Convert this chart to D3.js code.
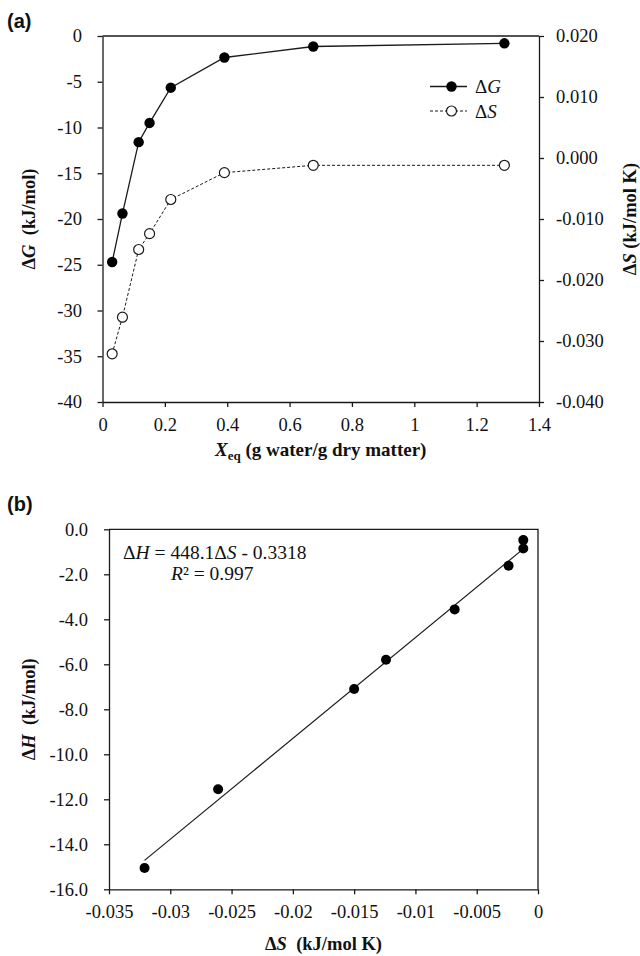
<!DOCTYPE html>
<html>
<head>
<meta charset="utf-8">
<script src="https://cdn.jsdelivr.net/npm/d3@7"></script>
<style>
  body { margin: 0; background: #fff; }
  svg { display: block; }
</style>
</head>
<body>
<svg id="fig" width="640" height="956"></svg>
<script>
// Equilibrium moisture content (g water / g dry matter)
const xeq = [0.031, 0.064, 0.116, 0.151, 0.219, 0.391, 0.676, 1.289];
// Gibbs free energy change (kJ/mol)
const deltaG = [-24.7, -19.4, -11.6, -9.5, -5.65, -2.35, -1.15, -0.8];
// Entropy change (kJ/mol K)
const deltaS = [-0.0321, -0.0261, -0.0150, -0.0124, -0.0068, -0.0024, -0.0012, -0.0012];
// Enthalpy change (kJ/mol)
const deltaH = [-15.05, -11.55, -7.1, -5.8, -3.56, -1.62, -0.85, -0.48];
// Linear fit of enthalpy on entropy
const fitSlope = 448.1;
const fitIntercept = -0.3318;

// Tick values
const xTicksA = [0, 0.2, 0.4, 0.6, 0.8, 1, 1.2, 1.4];
const gTicks = [0, -5, -10, -15, -20, -25, -30, -35, -40];
const sTicksA = [0.02, 0.01, 0, -0.01, -0.02, -0.03, -0.04];
const sTicksB = [-0.035, -0.03, -0.025, -0.02, -0.015, -0.01, -0.005, 0];
const hTicks = [0, -2, -4, -6, -8, -10, -12, -14, -16];

const svg = d3.select("#fig");
const ink = "#1a1a1a";
const fs = 18.5;
const SERIF = '"Liberation Serif", "Times New Roman", Tinos, serif';
const SANS = '"Liberation Sans", Arial, sans-serif';

// text helper: serif face set inline so it wins over inherited axis fonts
function label(parent, size) {
  return parent.append("text")
    .style("font-family", SERIF).style("font-size", size + "px").style("fill", "#111");
}

function styleAxis(g) {
  g.selectAll("path.domain").attr("stroke", ink).attr("stroke-width", 1.3);
  g.selectAll(".tick line").attr("stroke", ink).attr("stroke-width", 1.3);
  g.selectAll(".tick text")
    .style("font-family", SERIF).style("font-size", fs + "px").style("fill", "#111");
}

/* ---------------- Panel (a) ---------------- */
const A = { left: 102.5, right: 539, top: 36, bottom: 402 };
const xA = d3.scaleLinear().domain([0, 1.4]).range([A.left, A.right]);
const yG = d3.scaleLinear().domain([-40, 0]).range([A.bottom, A.top]);
const yS = d3.scaleLinear().domain([-0.04, 0.02]).range([A.bottom, A.top]);

const pa = svg.append("g");

// top border
pa.append("line")
  .attr("x1", A.left).attr("x2", A.right).attr("y1", A.top).attr("y2", A.top)
  .attr("stroke", ink).attr("stroke-width", 1.3);

pa.append("g")
  .attr("transform", `translate(0,${A.bottom})`)
  .call(d3.axisBottom(xA).tickValues(xTicksA).tickSize(5).tickSizeOuter(0)
        .tickFormat(d => String(+d.toFixed(1))))
  .call(styleAxis)
  .call(g => g.selectAll(".tick text").attr("y", 29).attr("dy", 0));

pa.append("g")
  .attr("transform", `translate(${A.left},0)`)
  .call(d3.axisLeft(yG).tickValues(gTicks).tickSize(5).tickSizeOuter(0).tickPadding(15.5)
        .tickFormat(d => String(d)))
  .call(styleAxis);

pa.append("g")
  .attr("transform", `translate(${A.right},0)`)
  .call(d3.axisRight(yS).tickValues(sTicksA).tickSize(5).tickSizeOuter(0).tickPadding(12)
        .tickFormat(d => d.toFixed(3)))
  .call(styleAxis);

const ptsA = xeq.map((x, i) => ({ x, g: deltaG[i], s: deltaS[i] }));

// ΔS series (right axis, dashed, open markers)
pa.append("path")
  .datum(ptsA)
  .attr("fill", "none").attr("stroke", ink).attr("stroke-width", 1)
  .attr("stroke-dasharray", "3,2")
  .attr("d", d3.line().x(d => xA(d.x)).y(d => yS(d.s)));

// ΔG series (left axis, solid, filled markers)
pa.append("path")
  .datum(ptsA)
  .attr("fill", "none").attr("stroke", ink).attr("stroke-width", 1.3)
  .attr("d", d3.line().x(d => xA(d.x)).y(d => yG(d.g)));

pa.selectAll("circle.s").data(ptsA).join("circle")
  .attr("class", "s")
  .attr("cx", d => xA(d.x)).attr("cy", d => yS(d.s)).attr("r", 5)
  .attr("fill", "#fff").attr("stroke", ink).attr("stroke-width", 1.2);

pa.selectAll("circle.g").data(ptsA).join("circle")
  .attr("class", "g")
  .attr("cx", d => xA(d.x)).attr("cy", d => yG(d.g)).attr("r", 5.2)
  .attr("fill", "#000");

// legend
const leg = pa.append("g").attr("transform", "translate(430,0)");
leg.append("line").attr("x1", 0).attr("x2", 37).attr("y1", 86.5).attr("y2", 86.5)
  .attr("stroke", ink).attr("stroke-width", 1.3);
leg.append("circle").attr("cx", 21.5).attr("cy", 86.5).attr("r", 5.2).attr("fill", "#000");
leg.append("line").attr("x1", 0).attr("x2", 37).attr("y1", 111).attr("y2", 111)
  .attr("stroke", ink).attr("stroke-width", 1).attr("stroke-dasharray", "3,2");
leg.append("circle").attr("cx", 21.5).attr("cy", 111).attr("r", 5)
  .attr("fill", "#fff").attr("stroke", ink).attr("stroke-width", 1.2);
const l1 = label(leg, 19).attr("x", 45).attr("y", 93);
l1.append("tspan").text("Δ");
l1.append("tspan").style("font-style", "italic").text("G");
const l2 = label(leg, 19).attr("x", 45).attr("y", 117.5);
l2.append("tspan").text("Δ");
l2.append("tspan").style("font-style", "italic").text("S");

// axis titles
const tGA = label(pa, fs)
  .attr("transform", `translate(35,${(A.top + A.bottom) / 2}) rotate(-90)`)
  .attr("text-anchor", "middle").style("font-weight", "bold");
tGA.append("tspan").text("Δ");
tGA.append("tspan").style("font-style", "italic").text("G");
tGA.append("tspan").text("\u00a0 (kJ/mol)");

const tSA = label(pa, fs)
  .attr("transform", `translate(636,${(A.top + A.bottom) / 2}) rotate(-90)`)
  .attr("text-anchor", "middle").style("font-weight", "bold");
tSA.append("tspan").text("Δ");
tSA.append("tspan").style("font-style", "italic").text("S");
tSA.append("tspan").text(" (kJ/mol K)");

const tXA = label(pa, 19)
  .attr("x", (A.left + A.right) / 2).attr("y", 456)
  .attr("text-anchor", "middle").style("font-weight", "bold");
tXA.append("tspan").style("font-style", "italic").text("X");
tXA.append("tspan").style("font-size", "13px").attr("dy", 4).text("eq");
tXA.append("tspan").attr("dy", -4).text(" (g water/g dry matter)");

pa.append("text").attr("x", 7).attr("y", 28)
  .style("font-family", SANS).style("font-weight", "bold").style("font-size", "20px")
  .style("fill", "#111").text("(a)");

/* ---------------- Panel (b) ---------------- */
const B = { left: 109, right: 538, top: 529.3, bottom: 889.3 };
const xB = d3.scaleLinear().domain([-0.035, 0]).range([B.left, B.right]);
const yH = d3.scaleLinear().domain([-16, 0]).range([B.bottom, B.top]);

const pb = svg.append("g");

// top and right border
pb.append("path")
  .attr("d", `M${B.left},${B.top}H${B.right}V${B.bottom}`)
  .attr("fill", "none").attr("stroke", ink).attr("stroke-width", 1.3);

pb.append("g")
  .attr("transform", `translate(0,${B.bottom})`)
  .call(d3.axisBottom(xB).tickValues(sTicksB).tickSize(5).tickSizeOuter(0)
        .tickFormat(d => String(+d.toFixed(3))))
  .call(styleAxis)
  .call(g => g.selectAll(".tick text").attr("y", 29).attr("dy", 0));

pb.append("g")
  .attr("transform", `translate(${B.left},0)`)
  .call(d3.axisLeft(yH).tickValues(hTicks).tickSize(5).tickSizeOuter(0).tickPadding(16)
        .tickFormat(d => d.toFixed(1)))
  .call(styleAxis);

// regression line over the range of the data
const sExt = d3.extent(deltaS);
pb.append("line")
  .attr("x1", xB(sExt[0])).attr("y1", yH(fitSlope * sExt[0] + fitIntercept))
  .attr("x2", xB(sExt[1])).attr("y2", yH(fitSlope * sExt[1] + fitIntercept))
  .attr("stroke", ink).attr("stroke-width", 1.2);

const ptsB = deltaS.map((s, i) => ({ s, h: deltaH[i] }));
pb.selectAll("circle").data(ptsB).join("circle")
  .attr("cx", d => xB(d.s)).attr("cy", d => yH(d.h)).attr("r", 5)
  .attr("fill", "#000");

// fit equation
const eq1 = label(pb, 19.5).attr("x", 123).attr("y", 559);
eq1.append("tspan").text("Δ");
eq1.append("tspan").style("font-style", "italic").text("H");
eq1.append("tspan").text(" = 448.1Δ");
eq1.append("tspan").style("font-style", "italic").text("S");
eq1.append("tspan").text(" - 0.3318");
const eq2 = label(pb, 19.5).attr("x", 171).attr("y", 580);
eq2.append("tspan").style("font-style", "italic").text("R");
eq2.append("tspan").text("² = 0.997");

// axis titles
const tHB = label(pb, fs)
  .attr("transform", `translate(35,${(B.top + B.bottom) / 2}) rotate(-90)`)
  .attr("text-anchor", "middle").style("font-weight", "bold");
tHB.append("tspan").text("Δ");
tHB.append("tspan").style("font-style", "italic").text("H");
tHB.append("tspan").text("\u00a0 (kJ/mol)");

const tSB = label(pb, fs)
  .attr("x", (B.left + B.right) / 2).attr("y", 950)
  .attr("text-anchor", "middle").style("font-weight", "bold");
tSB.append("tspan").text("Δ");
tSB.append("tspan").style("font-style", "italic").text("S");
tSB.append("tspan").text("\u00a0 (kJ/mol K)");

pb.append("text").attr("x", 7).attr("y", 511)
  .style("font-family", SANS).style("font-weight", "bold").style("font-size", "20px")
  .style("fill", "#111").text("(b)");
</script>
</body>
</html>
